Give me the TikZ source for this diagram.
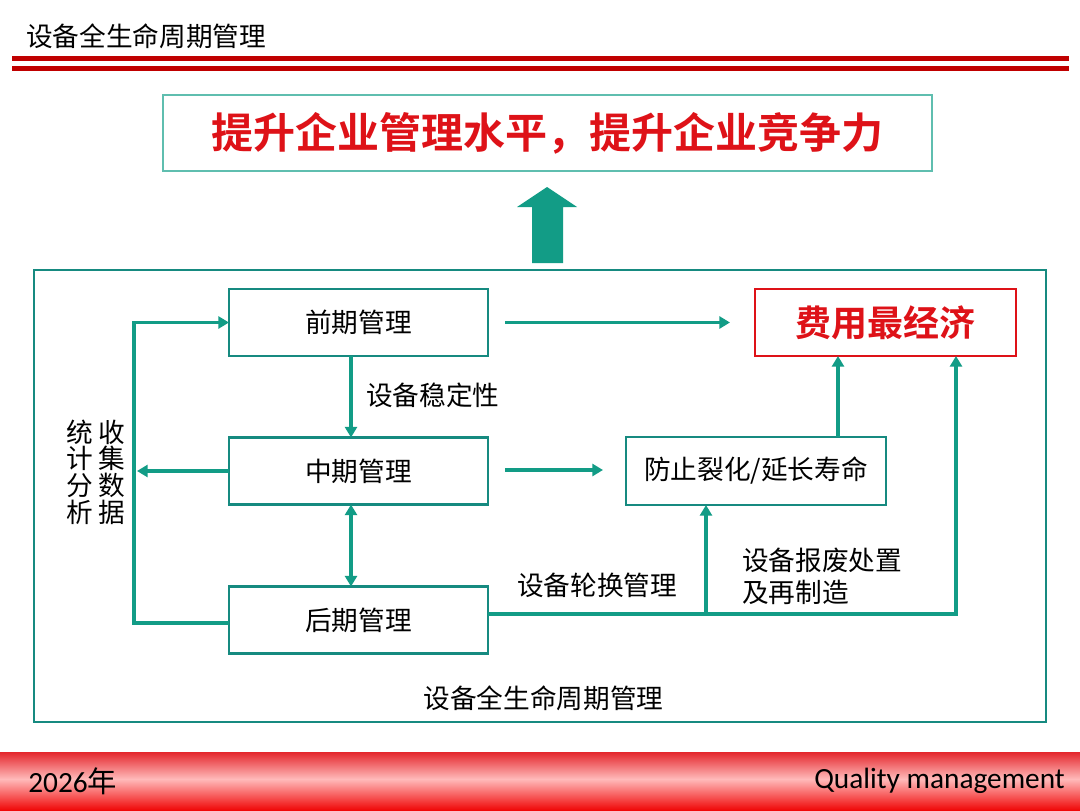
\documentclass[tikz,border=0pt]{standalone}
\usepackage{fontspec}
\setmainfont{Noto Sans CJK SC}[BoldFont={Noto Sans CJK SC Bold}]
\newfontfamily\footfont{Carlito}
\usetikzlibrary{arrows.meta,calc}
\definecolor{tealA}{RGB}{18,156,134}
\definecolor{boxteal}{RGB}{22,138,128}
\definecolor{lteal}{RGB}{95,190,175}
\definecolor{redA}{RGB}{222,18,24}
\definecolor{hred}{RGB}{192,0,0}
\definecolor{fred}{RGB}{228,38,44}
\definecolor{fpink}{RGB}{255,186,186}
\definecolor{fred2}{RGB}{240,8,8}
\begin{document}
\begin{tikzpicture}[x=0.75pt,y=-0.75pt,
  box/.style={draw=boxteal, line width=1.6pt, minimum width=194.25pt, minimum height=50.25pt, inner sep=0pt, outer sep=0pt, font=\fontsize{20}{24}\selectfont},
  conn/.style={draw=tealA, line width=2.6pt, -{Triangle[length=8pt,width=9pt]}},
  lbl/.style={inner sep=0pt, font=\fontsize{20}{24}\selectfont}]
\useasboundingbox (0,0) rectangle (1080,810);
\fill[white] (0,0) rectangle (1080,810);

% header
\node[anchor=west, inner sep=0pt, font=\fontsize{20}{24}\selectfont] (title) at (26,36) {设备全生命周期管理};
\fill[hred] (12,56) rectangle (1069,60.5);
\fill[hred] (12,66) rectangle (1069,70.5);

% footer
\shade[top color=fred, bottom color=fpink] (0,752) rectangle (1080,779);
\shade[top color=fpink, bottom color=fred2] (0,779) rectangle (1080,810);
\node[anchor=west, inner sep=0pt, font=\footfont\fontsize{22}{26}\selectfont] (year) at (28,781) {2026{\rmfamily 年}};
\node[anchor=east, inner sep=0pt, font=\footfont\fontsize{22}{26}\selectfont] (qm) at (1065,781) {Quality management};

% goal box and big arrow
\node[draw=lteal, line width=1.1pt, minimum width=576.75pt, minimum height=57pt, inner sep=0pt, text=redA, font=\bfseries\fontsize{31.5}{34}\selectfont] (goal) at (547.5,133) {提升企业管理水平，提升企业竞争力};
\fill[tealA] (532,263) -- (532,207) -- (517,207) -- (547,187) -- (577,207) -- (563,207) -- (563,263) -- cycle;

% outer frame
\node[draw=boxteal, line width=1.5pt, minimum width=759pt, minimum height=339pt, inner sep=0pt] (outer) at (540,496) {};

% boxes
\node[box] (qian) at (358.5,322.5) {前期管理};
\node[box] (zhong) at (358.5,471) {中期管理};
\node[box] (hou) at (358.5,620) {后期管理};
\node[box, minimum width=195pt, minimum height=51pt] (fang) at (756,471) {防止裂化/延长寿命};
\node[box, draw=redA, minimum width=195.75pt, text=redA, font=\bfseries\fontsize{27}{30}\selectfont] (fei) at (885.5,322.5) {费用最经济};

% labels
\node[lbl, anchor=west] (l1) at (366,395) {设备稳定性};
\node[lbl] (l2) at (597,585) {设备轮换管理};
\node[lbl, anchor=west, align=left] (l3) at (742,576) {设备报废处置\\及再制造};
\node[inner sep=0pt, align=center, font=\fontsize{20}{20}\selectfont] (l4) at (80,472) {统\\计\\分\\析};
\node[inner sep=0pt, align=center, font=\fontsize{20}{20}\selectfont] (l5) at (112,472) {收\\集\\数\\据};
\node[lbl] (l6) at (543.5,698) {设备全生命周期管理};

% coordinates
\coordinate (vx) at (351,0);
\coordinate (x838) at (838,0);
\coordinate (rc) at (956,614);
\coordinate (bj) at (706,614);
\coordinate (ltop) at (134,322.5);
\coordinate (lbot) at (134,623);
\coordinate (lmid) at (137,471);

% connectors
\draw[conn] ($(qian.east)+(17,0)$) -- ($(fei.west)+(-25,0)$);
\draw[conn] (qian.south -| vx) -- (zhong.north -| vx);
\draw[conn, {Triangle[length=8pt,width=9pt]}-{Triangle[length=8pt,width=9pt]}] (zhong.south -| vx) -- (hou.north -| vx);
\draw[conn] ($(zhong.east)+(17,-1)$) -- ($(fang.west)+(-23,-1)$);
\draw[conn] (fang.north -| x838) -- (fei.south -| x838);
\draw[conn] ($(hou.east)+(0,-6)$) -- (rc) -- (fei.south -| rc);
\draw[conn] (bj) -- (fang.south -| bj);
\draw[conn] ($(hou.west)+(0,3)$) -- (lbot) -- (ltop) -- (qian.west);
\draw[conn] (zhong.west) -- (lmid);
\end{tikzpicture}
\end{document}
